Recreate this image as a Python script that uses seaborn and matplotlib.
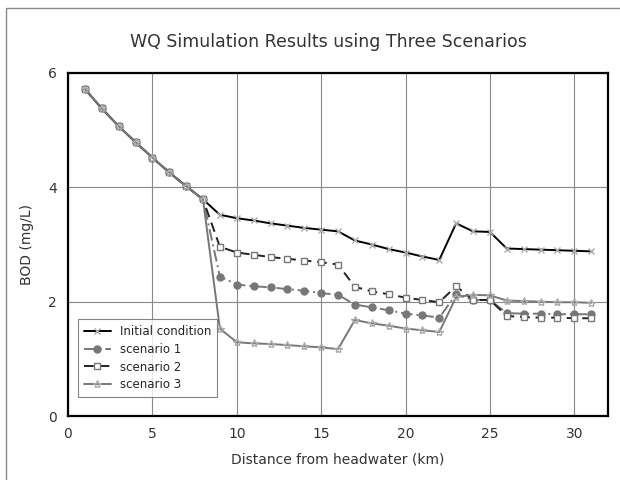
import matplotlib
matplotlib.use("Agg")
import matplotlib.pyplot as plt
import seaborn as sns
import pandas as pd
from matplotlib.patches import Rectangle

# distance from headwater (km)
distance = list(range(1, 32))

head = [5.72, 5.38, 5.07, 4.79, 4.52, 4.26, 4.02, 3.79]

initial = head + [3.52, 3.46, 3.42, 3.37, 3.33, 3.29, 3.26, 3.23, 3.07, 3.00, 2.92,
                  2.86, 2.79, 2.73, 3.37, 3.23, 3.22, 2.93, 2.92, 2.91, 2.90, 2.89, 2.88]
scenario1 = head + [2.44, 2.30, 2.27, 2.25, 2.22, 2.19, 2.15, 2.12, 1.95, 1.90, 1.85,
                    1.79, 1.76, 1.72, 2.13, 2.03, 2.03, 1.80, 1.79, 1.79, 1.78, 1.78, 1.78]
scenario2 = head + [2.96, 2.86, 2.82, 2.78, 2.75, 2.72, 2.69, 2.65, 2.26, 2.18, 2.13,
                    2.07, 2.03, 1.99, 2.27, 2.03, 2.03, 1.75, 1.73, 1.72, 1.72, 1.71, 1.71]
scenario3 = head + [1.53, 1.29, 1.27, 1.26, 1.24, 1.22, 1.20, 1.17, 1.68, 1.62, 1.58,
                    1.53, 1.50, 1.47, 2.08, 2.12, 2.11, 2.02, 2.01, 2.00, 1.99, 1.99, 1.98]

labels = ["Initial condition", "scenario 1", "scenario 2", "scenario 3"]

df = pd.DataFrame({
    "km": distance * 4,
    "bod": initial + scenario1 + scenario2 + scenario3,
    "series": sum([[lab] * len(distance) for lab in labels], []),
})

sns.set_style("white")
plt.rcParams["font.family"] = ["DejaVu Sans"]

fig = plt.figure(figsize=(6.2, 4.8), dpi=100)
ax = fig.add_axes([68 / 620, 1 - 416 / 480, (608 - 68) / 620, (416 - 73) / 480])

# outer frame of the figure
fig.patches.append(Rectangle((6 / 620, -0.05), 1.1, 1 - 8 / 480 + 0.05,
                             transform=fig.transFigure, fill=False,
                             edgecolor="#888888", linewidth=1.0))

styles = {
    "Initial condition": dict(color="black", ls="-", marker="x", ms=5,
                              mec="#aaaaaa", mfc="none", lw=1.4),
    "scenario 1": dict(color="#777777", ls=(0, (6, 2, 1, 2)), marker="o", ms=5,
                       mec="#777777", mfc="#777777", lw=1.4),
    "scenario 2": dict(color="#222222", ls=(0, (5, 3)), marker="s", ms=5,
                       mec="#777777", mfc="white", lw=1.4),
    "scenario 3": dict(color="#777777", ls="-", marker="*", ms=6,
                       mec="#aaaaaa", mfc="none", lw=1.4),
}

for lab in labels:
    sub = df[df["series"] == lab]
    st = styles[lab]
    sns.lineplot(data=sub, x="km", y="bod", ax=ax, label=lab, color=st["color"],
                 linestyle=st["ls"], linewidth=st["lw"], marker=st["marker"],
                 markersize=st["ms"], markeredgecolor=st["mec"],
                 markerfacecolor=st["mfc"], markeredgewidth=1.0)

ax.set_xlim(0, 32)
ax.set_ylim(0, 6)
ax.set_xticks([0, 5, 10, 15, 20, 25, 30])
ax.set_yticks([0, 2, 4, 6])
ax.grid(True, color="#888888", linewidth=0.8)
for s in ax.spines.values():
    s.set_linewidth(1.6)
    s.set_color("black")
ax.tick_params(axis="both", length=0, labelsize=10, colors="#333333", pad=8)

ax.set_xlabel("Distance from headwater (km)", fontsize=10, color="#333333", labelpad=8)
ax.set_ylabel("BOD (mg/L)", fontsize=10, color="#333333", labelpad=10)
fig.text(0.53, 1 - 42 / 480, "WQ Simulation Results using Three Scenarios",
         ha="center", va="center", fontsize=12.5, color="#333333")

leg = ax.legend(loc="lower left", bbox_to_anchor=(0.018, 0.055), borderaxespad=0,
                fontsize=8.5, frameon=True, fancybox=False, edgecolor="#666666",
                handlelength=2.3, borderpad=0.5, labelspacing=0.4)
leg.get_frame().set_linewidth(0.8)

fig.savefig("out.png", dpi=100)
